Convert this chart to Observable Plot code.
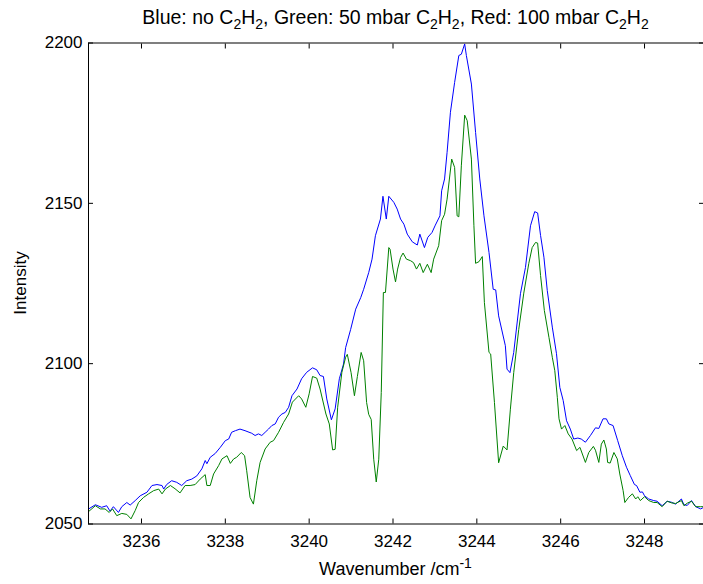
<!DOCTYPE html>
<html><head><meta charset="utf-8">
<script src="https://cdn.jsdelivr.net/npm/d3@7"></script>
<script src="https://cdn.jsdelivr.net/npm/@observablehq/plot@0.6"></script>
<style>html,body{margin:0;padding:0;background:#fff}svg{display:block}</style>
</head><body><div id="chart"></div>
<script>
const xTicks = [3236, 3238, 3240, 3242, 3244, 3246, 3248];
const yTicks = [2050, 2100, 2150, 2200];
const xDomain = [3234.736, 3249.407];
const yDomain = [2050, 2200];

// Blue: no C2H2
const blueWavenumber = [3234.74,3234.90,3235.05,3235.17,3235.25,3235.33,3235.45,3235.53,3235.65,3235.73,3235.85,3235.97,3236.13,3236.25,3236.37,3236.49,3236.53,3236.60,3236.72,3236.84,3236.96,3237.08,3237.20,3237.32,3237.44,3237.52,3237.56,3237.64,3237.76,3237.88,3238.00,3238.08,3238.15,3238.24,3238.35,3238.47,3238.63,3238.71,3238.79,3238.87,3238.95,3239.03,3239.11,3239.19,3239.27,3239.35,3239.43,3239.51,3239.59,3239.71,3239.82,3239.94,3240.08,3240.18,3240.26,3240.34,3240.42,3240.53,3240.62,3240.72,3240.82,3240.87,3240.99,3241.11,3241.23,3241.30,3241.42,3241.50,3241.58,3241.70,3241.76,3241.84,3241.90,3242.02,3242.10,3242.18,3242.26,3242.34,3242.46,3242.58,3242.64,3242.75,3242.83,3242.93,3243.01,3243.12,3243.16,3243.23,3243.29,3243.37,3243.47,3243.57,3243.63,3243.71,3243.75,3243.87,3243.97,3244.07,3244.17,3244.29,3244.39,3244.45,3244.52,3244.68,3244.72,3244.79,3244.88,3245.04,3245.16,3245.28,3245.38,3245.45,3245.52,3245.60,3245.68,3245.80,3245.90,3245.98,3246.06,3246.14,3246.23,3246.31,3246.41,3246.49,3246.59,3246.71,3246.83,3246.91,3247.01,3247.09,3247.15,3247.25,3247.36,3247.47,3247.57,3247.66,3247.76,3247.81,3247.89,3247.95,3248.00,3248.10,3248.22,3248.30,3248.42,3248.54,3248.64,3248.74,3248.88,3248.94,3249.02,3249.12,3249.22,3249.34,3249.41];
const blueIntensity = [2054.7,2056.0,2055.2,2055.7,2054.0,2055.4,2053.6,2055.4,2056.7,2055.9,2057.3,2058.8,2059.9,2062.0,2062.3,2062.0,2060.9,2062.3,2063.5,2063.0,2062.0,2063.5,2064.0,2065.0,2067.2,2069.8,2068.8,2070.8,2072.0,2073.9,2076.0,2076.5,2078.6,2079.1,2079.6,2079.1,2078.3,2077.6,2078.1,2077.6,2078.6,2079.6,2080.7,2081.2,2083.3,2084.3,2084.8,2086.4,2090.0,2092.1,2095.3,2097.3,2098.7,2098.1,2096.3,2096.0,2089.0,2082.5,2085.9,2095.3,2099.9,2105.0,2110.7,2117.0,2120.6,2123.2,2128.4,2132.6,2139.9,2145.1,2152.2,2145.1,2152.2,2150.3,2148.2,2145.1,2143.5,2140.4,2138.0,2137.0,2140.4,2136.2,2139.4,2140.9,2143.2,2146.1,2153.9,2157.6,2165.9,2178.4,2187.7,2196.1,2196.5,2199.7,2196.1,2187.2,2172.1,2157.6,2146.1,2134.7,2123.2,2123.0,2114.9,2105.6,2098.3,2097.2,2103.5,2121.8,2130.0,2143.0,2147.4,2147.0,2140.0,2133.2,2122.8,2111.4,2103.1,2092.6,2088.5,2082.2,2079.6,2076.5,2076.8,2076.5,2075.5,2077.6,2080.0,2079.8,2082.8,2082.8,2081.2,2080.7,2076.0,2071.3,2067.7,2065.1,2062.3,2062.0,2059.9,2060.0,2058.8,2057.8,2057.3,2057.1,2055.7,2057.1,2056.8,2056.2,2057.8,2056.0,2055.8,2057.3,2055.4,2054.7,2055.2];

// Green: 50 mbar C2H2
const greenWavenumber = [3234.74,3234.90,3235.02,3235.13,3235.23,3235.31,3235.41,3235.53,3235.65,3235.75,3235.85,3235.93,3236.05,3236.17,3236.29,3236.41,3236.49,3236.57,3236.69,3236.80,3236.92,3237.04,3237.16,3237.28,3237.40,3237.52,3237.56,3237.64,3237.72,3237.84,3237.92,3238.04,3238.12,3238.20,3238.27,3238.38,3238.46,3238.51,3238.59,3238.67,3238.75,3238.83,3238.95,3239.07,3239.15,3239.27,3239.39,3239.51,3239.60,3239.75,3239.82,3239.92,3240.00,3240.08,3240.18,3240.26,3240.40,3240.48,3240.56,3240.62,3240.68,3240.78,3240.87,3240.91,3241.00,3241.08,3241.15,3241.24,3241.30,3241.37,3241.42,3241.48,3241.54,3241.60,3241.66,3241.72,3241.77,3241.82,3241.90,3241.93,3242.00,3242.06,3242.11,3242.18,3242.24,3242.32,3242.42,3242.49,3242.56,3242.64,3242.72,3242.82,3242.91,3242.97,3243.09,3243.16,3243.23,3243.29,3243.40,3243.47,3243.53,3243.57,3243.63,3243.71,3243.77,3243.87,3243.93,3243.97,3244.05,3244.13,3244.18,3244.29,3244.33,3244.42,3244.52,3244.63,3244.72,3244.80,3244.88,3245.00,3245.12,3245.24,3245.32,3245.40,3245.45,3245.52,3245.61,3245.72,3245.80,3245.86,3245.92,3245.96,3246.02,3246.10,3246.18,3246.27,3246.38,3246.46,3246.59,3246.67,3246.78,3246.83,3246.91,3246.97,3247.03,3247.09,3247.12,3247.18,3247.27,3247.35,3247.41,3247.49,3247.53,3247.62,3247.71,3247.79,3247.84,3247.90,3248.00,3248.10,3248.22,3248.30,3248.42,3248.54,3248.64,3248.74,3248.88,3248.94,3249.02,3249.12,3249.22,3249.34,3249.41];
const greenIntensity = [2053.9,2055.7,2054.7,2054.7,2053.6,2054.7,2052.6,2053.3,2053.0,2051.6,2054.2,2056.7,2058.3,2059.4,2060.4,2060.9,2059.4,2060.9,2062.0,2061.0,2059.7,2062.0,2062.0,2062.3,2064.0,2065.4,2062.0,2062.0,2065.6,2068.2,2070.3,2071.3,2068.9,2070.3,2070.8,2072.3,2071.3,2066.6,2058.3,2056.2,2063.5,2069.2,2073.4,2075.5,2076.0,2078.6,2081.7,2084.3,2088.0,2090.0,2089.0,2086.4,2090.6,2096.0,2095.5,2092.1,2084.3,2081.2,2073.1,2073.3,2086.4,2097.3,2102.0,2102.9,2097.2,2090.0,2096.0,2103.5,2100.9,2087.9,2084.2,2082.6,2070.2,2063.1,2070.2,2091.0,2122.2,2122.2,2136.2,2135.7,2129.5,2125.5,2129.5,2133.1,2134.5,2132.6,2132.1,2131.5,2129.5,2131.3,2128.4,2131.0,2128.4,2132.6,2136.8,2144.6,2146.6,2151.3,2163.8,2161.2,2146.1,2145.8,2161.7,2177.5,2175.8,2163.8,2143.0,2131.3,2131.8,2133.4,2119.1,2103.5,2103.0,2087.9,2069.1,2074.3,2073.1,2085.8,2097.2,2110.7,2122.0,2131.3,2136.2,2137.8,2137.6,2127.5,2116.6,2108.2,2102.0,2097.8,2089.5,2082.8,2079.6,2080.7,2078.1,2076.5,2072.9,2073.9,2069.2,2072.3,2074.2,2073.0,2069.2,2074.9,2076.2,2073.4,2069.2,2069.0,2072.3,2070.3,2065.6,2060.4,2056.7,2058.3,2059.4,2057.8,2058.5,2057.3,2058.5,2057.3,2056.7,2056.7,2055.4,2057.1,2056.6,2056.4,2057.3,2055.7,2056.5,2057.1,2055.4,2055.4,2055.4];

const seriesColors = {blue: "#0000ff", green: "#008000"};

const blue = blueWavenumber.map((x, i) => ({x, y: blueIntensity[i]}));
const green = greenWavenumber.map((x, i) => ({x, y: greenIntensity[i]}));

const FONT = "'Liberation Sans', Arial, Helvetica, sans-serif";
const FS = 17;

const svg = Plot.plot({
  width: 703,
  height: 584,
  marginLeft: 88,
  marginRight: 0,
  marginTop: 42.5,
  marginBottom: 60.5,
  style: {fontFamily: FONT, fontSize: FS + "px", background: "#fff", color: "#000", overflow: "visible"},
  x: {domain: xDomain},
  y: {domain: yDomain},
  marks: [
    Plot.line(blue, {x: "x", y: "y", stroke: seriesColors.blue, strokeWidth: 1}),
    Plot.line(green, {x: "x", y: "y", stroke: seriesColors.green, strokeWidth: 1}),
    Plot.frame({stroke: "#000", strokeWidth: 1}),
    // inward ticks (MATLAB style) on all four sides
    Plot.axisX({anchor: "bottom", ticks: xTicks, tickSize: -5, tickFormat: () => "", label: null, stroke: "#000"}),
    Plot.axisX({anchor: "top", ticks: xTicks, tickSize: -5, tickFormat: () => "", label: null, stroke: "#000"}),
    Plot.axisY({anchor: "left", ticks: yTicks, tickSize: -5, tickFormat: () => "", label: null, stroke: "#000"}),
    Plot.axisY({anchor: "right", ticks: yTicks, tickSize: -5, tickFormat: () => "", label: null, stroke: "#000"}),
    // tick labels
    Plot.axisX({anchor: "bottom", ticks: xTicks, tickSize: 0, tickPadding: 11, tickFormat: d => String(d), label: null, fontSize: FS, fill: "#000"}),
    Plot.axisY({anchor: "left", ticks: yTicks, tickSize: 0, tickPadding: 6, tickFormat: d => String(d), label: null, fontSize: FS, fill: "#000"})
  ]
});

// Titles and axis labels with sub/superscripts
const s = d3.select(svg);
const g = s.append("g").attr("font-family", FONT).attr("fill", "#000");

const titleParts = [
  ["Blue: no C", 0], ["2", 1], ["H", 0], ["2", 1], [", Green: 50 mbar C", 0], ["2", 1], ["H", 0], ["2", 1],
  [", Red: 100 mbar C", 0], ["2", 1], ["H", 0], ["2", 1]
];
const title = g.append("text").attr("x", 395.5).attr("y", 24).attr("text-anchor", "middle").attr("font-size", 19.5);
let prev = 0;
for (const [t, sub] of titleParts) {
  const shift = sub ? 5 : 0;
  title.append("tspan").attr("dy", shift - prev).attr("font-size", sub ? 14 : 19.5).text(t);
  prev = shift;
}

const xlabel = g.append("text").attr("x", 395.5).attr("y", 575).attr("text-anchor", "middle").attr("font-size", 18);
xlabel.append("tspan").text("Wavenumber /cm");
xlabel.append("tspan").attr("dy", -7).attr("font-size", 14).text("-1");

g.append("text")
  .attr("transform", "translate(26,283) rotate(-90)")
  .attr("text-anchor", "middle")
  .attr("font-size", FS)
  .text("Intensity");

document.getElementById("chart").appendChild(svg);
</script>
</body></html>
